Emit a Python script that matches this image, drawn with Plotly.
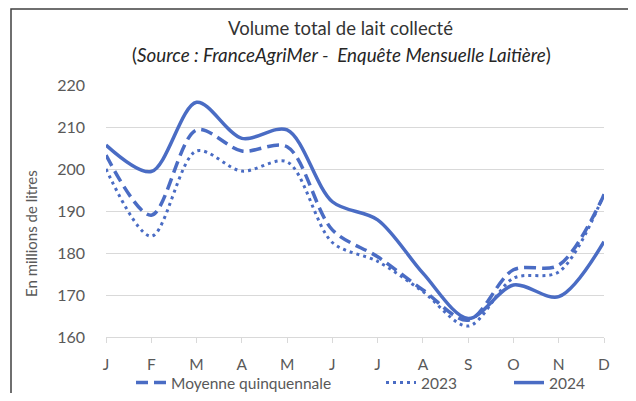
import plotly.graph_objects as go

# Data (millions de litres)
months = ["J", "F", "M", "A", "M", "J", "J", "A", "S", "O", "N", "D"]
moyenne = [203.3, 189.0, 209.3, 204.3, 205.3, 185.5, 179.1, 171.2, 164.0, 176.0, 177.1, 193.8]
y2023 = [200.0, 184.0, 204.3, 199.5, 201.7, 182.5, 178.0, 170.8, 162.6, 174.0, 175.5, 194.0]
y2024 = [205.7, 199.4, 215.9, 207.3, 209.3, 192.2, 187.9, 175.2, 164.4, 172.4, 169.6, 182.7]
y_ticks = [160, 170, 180, 190, 200, 210, 220]

BLUE = "#4a6cc4"
GRID = "#d9d9d9"
TXT = "#595959"
FONT = "Lato, 'Open Sans', sans-serif"

x = list(range(len(months)))

# page body has an 8px margin, so screen px -> figure px = minus 8;
# figure kept small enough that the page never scrolls
OFF = 8
W, H = 628, 385
L, T = 106 - OFF, 85 - OFF
R, B = W - (604 - OFF), H - (337 - OFF)
pw, ph = W - L - R, H - T - B


def px(xp):
    return (xp - OFF - L) / pw


def py(yp):
    return (H - B - (yp - OFF)) / ph


fig = go.Figure()
fig.add_trace(go.Scatter(
    x=x, y=moyenne, name="Moyenne quinquennale", mode="lines", legend="legend",
    line=dict(color=BLUE, width=3.5, dash="12px,6px", shape="spline", smoothing=0.9),
))
fig.add_trace(go.Scatter(
    x=x, y=y2023, name="2023", mode="lines", legend="legend2",
    line=dict(color=BLUE, width=3, dash="3px,4px", shape="spline", smoothing=0.9),
))
fig.add_trace(go.Scatter(
    x=x, y=y2024, name="2024", mode="lines", legend="legend3",
    line=dict(color=BLUE, width=3.5, shape="spline", smoothing=0.9),
))

leg = dict(
    orientation="h", xanchor="left", y=py(383), yanchor="middle",
    font=dict(size=15.5, color=TXT), bgcolor="rgba(0,0,0,0)",
)

fig.update_layout(
    width=W, height=H,
    margin=dict(l=L, r=R, t=T, b=B, autoexpand=False),
    paper_bgcolor="white", plot_bgcolor="white",
    font=dict(family=FONT, color=TXT, size=15),
    showlegend=True,
    legend=dict(leg, x=px(173 - 42)),
    legend2=dict(leg, x=px(423 - 42)),
    legend3=dict(leg, x=px(551 - 42)),
    xaxis=dict(
        range=[0, 11], tickvals=x, ticktext=months,
        showgrid=False, zeroline=False,
        showline=True, linecolor=GRID, linewidth=1,
        ticks="outside", ticklen=5, tickcolor=GRID,
        tickfont=dict(size=15.5, color=TXT), ticklabelstandoff=8,
    ),
    yaxis=dict(
        range=[160, 220], tickvals=y_ticks,
        showgrid=True, gridcolor=GRID, gridwidth=1, zeroline=False,
        showline=False, ticks="",
        tickfont=dict(size=16, color=TXT), ticklabelstandoff=20,
    ),
    annotations=[
        dict(text="Volume total de lait collecté", xref="paper", yref="paper",
             x=px(340), y=py(28), xanchor="center", yanchor="middle",
             showarrow=False, font=dict(size=18.5, color="#333333")),
        dict(text="(<i>Source : FranceAgriMer -\u00a0 Enquête Mensuelle Laitière</i>)",
             xref="paper", yref="paper",
             x=px(341), y=py(55), xanchor="center", yanchor="middle",
             showarrow=False, font=dict(size=18.8, color="#262626")),
        dict(text="En millions de litres", xref="paper", yref="paper",
             x=px(31), y=py(234), xanchor="center", yanchor="middle", textangle=-90,
             showarrow=False, font=dict(size=15, color=TXT)),
    ],
    shapes=[
        dict(type="path", xref="paper", yref="paper",
             path=f"M {px(11)},{py(400)} L {px(11)},{py(9)} L {px(634)},{py(9)} L {px(634)},{py(400)}",
             line=dict(color="#404040", width=1.5)),
    ],
)

fig.write_html("out.html")
